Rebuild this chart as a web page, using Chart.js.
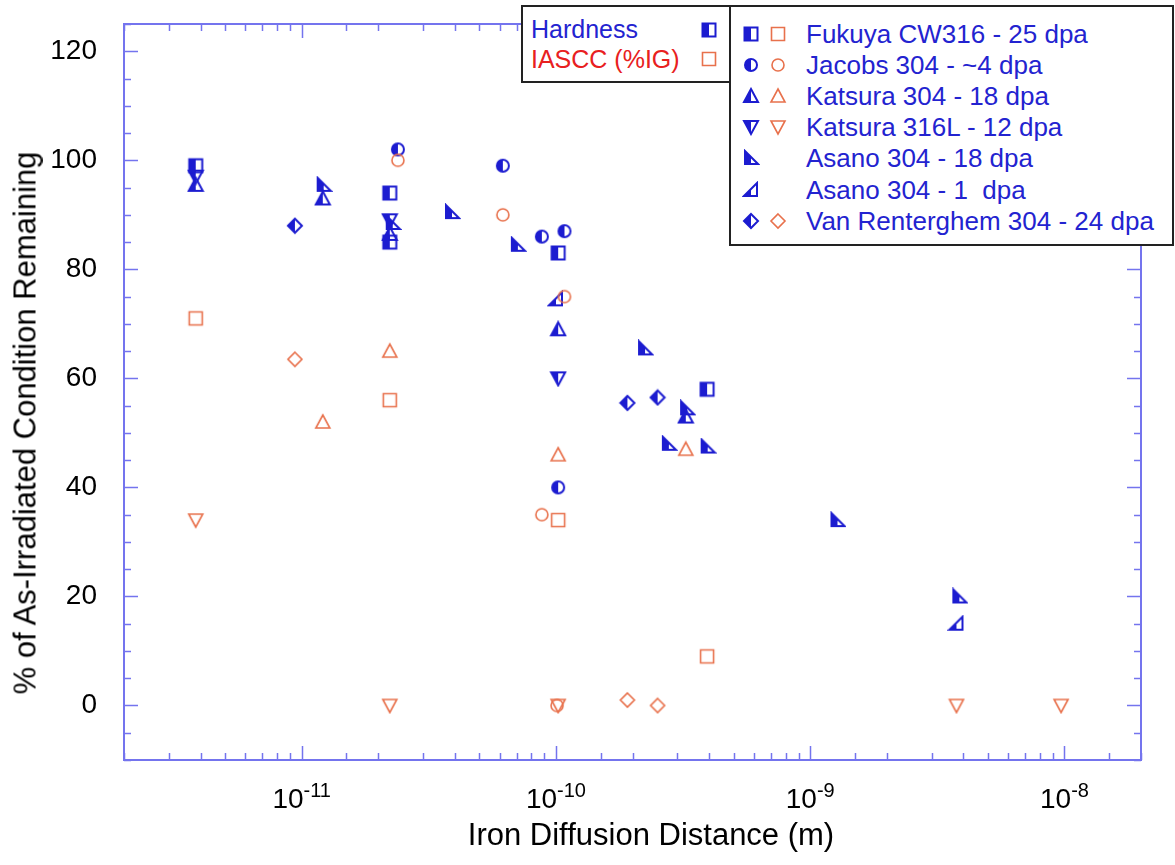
<!DOCTYPE html>
<html>
<head>
<meta charset="utf-8">
<script src="https://cdn.jsdelivr.net/npm/chart.js@4"></script>
<style>
body { margin: 0; background: #fff; font-family: "Liberation Sans", Arial, sans-serif; }
#wrap { position: relative; width: 1175px; height: 865px; overflow: hidden; }
#chart { position: absolute; left: 0; top: 0; }
.box { position: absolute; background: #fff; border: 2px solid #222; box-sizing: border-box; }
.lbl { position: absolute; white-space: pre; line-height: 1; transform: translateY(-50%); }
.key { position: absolute; transform: translate(-50%, -50%); }
#ytitle { position: absolute; left: 25px; top: 423px; white-space: nowrap; font-size: 31px; line-height: 1;
          color: #000; transform: translate(-50%, -50%) rotate(-90deg); }
#xtitle { position: absolute; left: 651px; top: 834px; white-space: nowrap; font-size: 31px; line-height: 1;
          color: #000; transform: translate(-50%, -50%); }
</style>
</head>
<body>
<div id="wrap">
  <canvas id="chart" width="1175" height="865"></canvas>
  <div id="ytitle">% of As-Irradiated Condition Remaining</div>
  <div id="xtitle">Iron Diffusion Distance (m)</div>
  <div class="box" style="left:521px;top:5px;width:210px;height:78px"></div>
  <div class="box" style="left:729px;top:5px;width:445px;height:241px"></div>
</div>
<script>
// data (x = iron diffusion distance in m, y = % remaining)
const fukuyaHardX = [3.83e-12, 2.22e-11, 2.22e-11, 1.02e-10, 3.93e-10];
const fukuyaHardY = [99, 94, 85, 83, 58];
const fukuyaIgX = [3.83e-12, 2.22e-11, 1.02e-10, 3.93e-10];
const fukuyaIgY = [71, 56, 34, 9];

const jacobsHardX = [2.39e-11, 6.18e-11, 8.8e-11, 1.08e-10, 1.02e-10];
const jacobsHardY = [102, 99, 86, 87, 40];
const jacobsIgX = [2.39e-11, 6.18e-11, 8.8e-11, 1.08e-10, 1.01e-10];
const jacobsIgY = [100, 90, 35, 75, 0];

const katsura304HardX = [3.83e-12, 1.21e-11, 2.22e-11, 1.02e-10, 3.24e-10];
const katsura304HardY = [95.5, 93, 86.5, 69, 53];
const katsura304IgX = [1.21e-11, 2.22e-11, 1.02e-10, 3.24e-10];
const katsura304IgY = [52, 65, 46, 47];

const katsura316HardX = [3.83e-12, 2.22e-11, 1.02e-10];
const katsura316HardY = [97, 89, 60];
const katsura316IgX = [3.83e-12, 2.22e-11, 1.02e-10, 3.76e-9, 9.7e-9];
const katsura316IgY = [34, 0, 0, 0, 0];

const asano18HardX = [1.22e-11, 2.28e-11, 3.9e-11, 7.08e-11, 2.24e-10, 3.28e-10, 2.78e-10, 3.95e-10, 1.28e-9, 3.86e-9];
const asano18HardY = [95.5, 88.5, 90.5, 84.5, 65.5, 54.5, 48, 47.5, 34, 20];
const asano1HardX = [1.0e-10, 3.76e-9];
const asano1HardY = [74.5, 15];

const vanRentHardX = [9.4e-12, 1.91e-10, 2.51e-10];
const vanRentHardY = [88, 55.5, 56.5];
const vanRentIgX = [9.4e-12, 1.91e-10, 2.51e-10];
const vanRentIgY = [63.5, 1, 0];

const legendLabels = ['Fukuya CW316 - 25 dpa', 'Jacobs 304 - ~4 dpa', 'Katsura 304 - 18 dpa',
  'Katsura 316L - 12 dpa', 'Asano 304 - 18 dpa', 'Asano 304 - 1  dpa', 'Van Renterghem 304 - 24 dpa'];
const legendShapes = ['square', 'circle', 'up', 'down', 'asano18', 'asano1', 'diamond'];

const BLUE = '#1c1cd0';
const ORANGE = '#e8714c';
const AXIS = '#7474ee';
const FONT = '"Liberation Sans", Arial, sans-serif';

// build a marker image: outline, optionally with the left half filled
function markerCanvas(shape, color, half) {
    const s = 18, m = s / 2;
    const c = document.createElement('canvas');
    c.width = s; c.height = s;
    const g = c.getContext('2d');
    g.beginPath();
    if (shape === 'square') {
        g.rect(m - 6.5, m - 6.5, 13, 13);
    } else if (shape === 'circle') {
        g.arc(m, m, 6, 0, Math.PI * 2);
    } else {
        const pts = {
            up: [[0, -7], [7, 6], [-7, 6]],
            down: [[-7, -6], [7, -6], [0, 7]],
            asano18: [[-6, -7], [-6, 6], [7, 6]],
            asano1: [[6, -7], [6, 6], [-7, 6]],
            diamond: [[0, -7], [7, 0], [0, 7], [-7, 0]]
        }[shape];
        pts.forEach(([px, py], i) => i ? g.lineTo(m + px, m + py) : g.moveTo(m + px, m + py));
        g.closePath();
    }
    if (half) {
        g.save();
        g.clip();
        g.fillStyle = color;
        g.fillRect(0, 0, m, s);
        g.restore();
    }
    g.strokeStyle = color;
    g.lineWidth = half ? 2 : 1.6;
    g.stroke();
    return c;
}

const pts = (xs, ys) => xs.map((x, i) => ({ x: x, y: ys[i] }));

function series(label, xs, ys, shape, hard) {
    return {
        label: label,
        data: pts(xs, ys),
        pointStyle: markerCanvas(shape, hard ? BLUE : ORANGE, hard),
        pointRadius: 8,
        borderColor: hard ? BLUE : ORANGE,
        backgroundColor: hard ? BLUE : ORANGE
    };
}

const datasets = [
    series('Fukuya IASCC', fukuyaIgX, fukuyaIgY, 'square', false),
    series('Jacobs IASCC', jacobsIgX, jacobsIgY, 'circle', false),
    series('Katsura 304 IASCC', katsura304IgX, katsura304IgY, 'up', false),
    series('Katsura 316L IASCC', katsura316IgX, katsura316IgY, 'down', false),
    series('Van Renterghem IASCC', vanRentIgX, vanRentIgY, 'diamond', false),
    series('Fukuya hardness', fukuyaHardX, fukuyaHardY, 'square', true),
    series('Jacobs hardness', jacobsHardX, jacobsHardY, 'circle', true),
    series('Katsura 304 hardness', katsura304HardX, katsura304HardY, 'up', true),
    series('Katsura 316L hardness', katsura316HardX, katsura316HardY, 'down', true),
    series('Asano 18 dpa hardness', asano18HardX, asano18HardY, 'asano18', true),
    series('Asano 1 dpa hardness', asano1HardX, asano1HardY, 'asano1', true),
    series('Van Renterghem hardness', vanRentHardX, vanRentHardY, 'diamond', true)
];

function isDecade(v) {
    const e = Math.round(Math.log10(v));
    return Math.abs(v / Math.pow(10, e) - 1) < 1e-6;
}

// frame + inward ticks on all four sides
const framePlugin = {
    id: 'frame',
    beforeDatasetsDraw(chart) {
        const { ctx, chartArea: a, scales: { x, y } } = chart;
        ctx.save();
        ctx.strokeStyle = AXIS;
        ctx.lineWidth = 2;
        ctx.strokeRect(a.left, a.top, a.right - a.left, a.bottom - a.top);
        ctx.lineWidth = 1.5;
        ctx.beginPath();
        x.ticks.forEach(t => {
            const px = Math.round(x.getPixelForValue(t.value)) + 0.5;
            const len = isDecade(t.value) ? 14 : 7;
            ctx.moveTo(px, a.bottom); ctx.lineTo(px, a.bottom - len);
            ctx.moveTo(px, a.top); ctx.lineTo(px, a.top + len);
        });
        y.ticks.forEach(t => {
            const py = Math.round(y.getPixelForValue(t.value)) + 0.5;
            const len = t.value % 20 === 0 ? 14 : 7;
            ctx.moveTo(a.left, py); ctx.lineTo(a.left + len, py);
            ctx.moveTo(a.right, py); ctx.lineTo(a.right - len, py);
        });
        ctx.stroke();
        ctx.restore();
    },
    // decade labels as 10 with a raised exponent
    afterDraw(chart) {
        const { ctx, chartArea: a, scales: { x } } = chart;
        ctx.save();
        ctx.fillStyle = '#000';
        ctx.textBaseline = 'alphabetic';
        ctx.textAlign = 'left';
        x.ticks.forEach(t => {
            if (!isDecade(t.value)) return;
            const px = x.getPixelForValue(t.value);
            const exp = String(Math.round(Math.log10(t.value)));
            ctx.font = '28px ' + FONT;
            const w1 = ctx.measureText('10').width;
            ctx.font = '20px ' + FONT;
            const w2 = ctx.measureText(exp).width;
            const start = px - (w1 + w2) / 2;
            ctx.font = '28px ' + FONT;
            ctx.fillText('10', start, a.bottom + 48);
            ctx.font = '20px ' + FONT;
            ctx.fillText(exp, start + w1, a.bottom + 37);
        });
        ctx.restore();
    }
};

const chart = new Chart(document.getElementById('chart'), {
    type: 'scatter',
    data: { datasets: datasets },
    options: {
        responsive: false,
        animation: false,
        layout: { padding: { left: 0, top: 24, right: 34, bottom: 0 } },
        plugins: { legend: { display: false }, tooltip: { enabled: false } },
        scales: {
            x: {
                type: 'logarithmic',
                min: 2e-12,
                max: 2e-8,
                grid: { display: false },
                border: { display: false },
                afterFit: scale => {
                    scale.height = 105;
                    scale.paddingLeft = 0;
                    scale.paddingRight = 0;
                },
                ticks: {
                    autoSkip: false,
                    maxRotation: 0,
                    callback: () => ''
                }
            },
            y: {
                min: -10,
                max: 125,
                grid: { display: false },
                border: { display: false },
                afterFit: scale => {
                    scale.width = 124;
                    scale.paddingTop = 0;
                    scale.paddingBottom = 0;
                },
                ticks: {
                    stepSize: 5,
                    autoSkip: false,
                    padding: 19,
                    color: '#000',
                    font: { family: FONT, size: 28 },
                    callback: v => (v % 20 === 0 && v >= 0 && v <= 120) ? v : ''
                }
            }
        }
    },
    plugins: [framePlugin]
});

// legend boxes as html on top of the canvas
const wrap = document.getElementById('wrap');

function addLabel(text, left, top, color, size) {
    const d = document.createElement('div');
    d.className = 'lbl';
    d.textContent = text;
    d.style.left = left + 'px';
    d.style.top = top + 'px';
    d.style.color = color;
    d.style.fontSize = size + 'px';
    wrap.appendChild(d);
}

function addKey(shape, hard, cx, cy) {
    const img = document.createElement('img');
    img.className = 'key';
    img.src = markerCanvas(shape, hard ? BLUE : ORANGE, hard).toDataURL();
    img.style.left = cx + 'px';
    img.style.top = cy + 'px';
    wrap.appendChild(img);
}

addLabel('Hardness', 531, 29, '#2323d0', 25);
addLabel('IASCC (%IG)', 531, 59, '#e82020', 25);
addKey('square', true, 709, 30);
addKey('square', false, 709, 59);

legendLabels.forEach((text, i) => {
    const cy = 34 + i * 31.1;
    addLabel(text, 806, cy, '#2323d0', 26);
    addKey(legendShapes[i], true, 751, cy);
    if (legendShapes[i] !== 'asano18' && legendShapes[i] !== 'asano1') {
        addKey(legendShapes[i], false, 778, cy);
    }
});
</script>
</body>
</html>
